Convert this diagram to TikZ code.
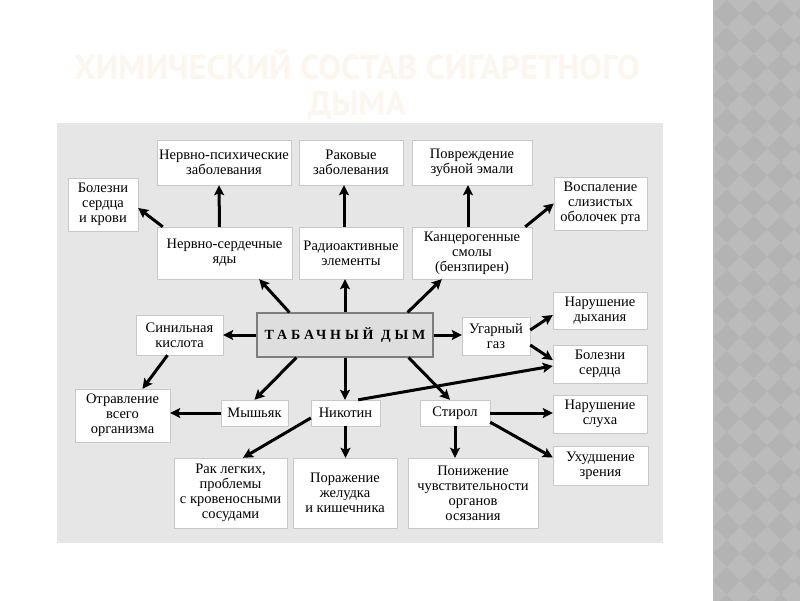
\documentclass[tikz,border=0pt]{standalone}
\usepackage{fontspec}
\setmainfont{Liberation Serif}
\newfontfamily\titlefont{PT Sans}
\usetikzlibrary{arrows.meta}

\definecolor{panel}{RGB}{230,230,230}
\definecolor{boxline}{RGB}{200,200,200}
\definecolor{smokefill}{RGB}{222,222,222}
\definecolor{smokeline}{RGB}{125,125,125}
\definecolor{titlecol}{RGB}{253,246,238}
\definecolor{stripdark}{RGB}{179,179,179}
\definecolor{striplight}{RGB}{187,187,187}

\begin{document}
\begin{tikzpicture}[x=1pt, y=-1pt,
  box/.style={draw=boxline, fill=white, inner sep=0pt, align=center, font=\fontsize{14.5}{15}\selectfont},
  arr/.style={-{Stealth[length=10pt, width=10pt, inset=2pt]}, line width=3pt}]
\useasboundingbox (0,0) rectangle (800,600);
\fill[white] (0,0) rectangle (800,600);
% grey strip on the right
\begin{scope}
\clip (713,0) rectangle (800,600);
\fill[stripdark] (700,-20) rectangle (820,620);
\foreach \i in {0,...,4} \foreach \j in {0,...,23}
  \fill[striplight] (713+27*\i-13.5, 27*\j) -- ++(13.5,-13.5) -- ++(13.5,13.5) -- ++(-13.5,13.5) -- cycle;
\end{scope}
% title
\node[text=titlecol, font=\titlefont\bfseries\fontsize{34}{36}\selectfont, align=center] (title) at (357,85) {ХИМИЧЕСКИЙ СОСТАВ СИГАРЕТНОГО\\ДЫМА};
\fill[panel] (57,123) rectangle (663,543);
% boxes
\node[box, minimum width=134, minimum height=45] (x1) at (224,162.5) {Нервно-психические\\заболевания};
\node[box, minimum width=104, minimum height=45] (x2) at (351,162.5) {Раковые\\заболевания};
\node[box, minimum width=120, minimum height=45] (x3) at (472,162.5) {Повреждение\\зубной эмали};
\node[box, minimum width=70, minimum height=53] (b1) at (103,204.5) {Болезни\\сердца\\и крови};
\node[box, minimum width=93, minimum height=53] (b2) at (600.5,203.5) {Воспаление\\слизистых\\оболочек рта};
\node[box, minimum width=135, minimum height=52] (y1) at (224.5,253) {Нервно-сердечные\\яды};
\node[box, minimum width=104, minimum height=52] (y2) at (351,253) {Радиоактивные\\элементы};
\node[box, minimum width=120, minimum height=52] (y3) at (472,253) {Канцерогенные\\смолы\\(бензпирен)};
\node[box, minimum width=87, minimum height=40] (z1) at (179.5,335) {Синильная\\кислота};
\node[draw=smokeline, fill=smokefill, line width=1.2pt, inner sep=0pt, minimum width=176, minimum height=44,
  font=\bfseries\fontsize{14}{15}\selectfont\addfontfeature{LetterSpace=28}] (s) at (345,335) {ТАБАЧНЫЙ ДЫМ};
\node[box, minimum width=68, minimum height=38] (z2) at (496,336) {Угарный\\газ};
\node[box, minimum width=94, minimum height=37] (c1) at (600,310.5) {Нарушение\\дыхания};
\node[box, minimum width=94, minimum height=38] (c2) at (600,364) {Болезни\\сердца};
\node[box, minimum width=95, minimum height=53] (t0) at (122.5,415.5) {Отравление\\всего\\организма};
\node[box, minimum width=67, minimum height=26] (t1) at (254.5,413) {Мышьяк};
\node[box, minimum width=69, minimum height=26] (t2) at (345.5,413) {Никотин};
\node[box, minimum width=70, minimum height=26] (t3) at (455,413) {Стирол};
\node[box, minimum width=94, minimum height=38] (c3) at (600,414) {Нарушение\\слуха};
\node[box, minimum width=95, minimum height=39] (c4) at (600.5,465.5) {Ухудшение\\зрения};
\node[box, minimum width=113, minimum height=70] (u1) at (230.5,493) {Рак легких,\\проблемы\\с кровеносными\\сосудами};
\node[box, minimum width=104, minimum height=70] (u2) at (345,493) {Поражение\\желудка\\и кишечника};
\node[box, minimum width=130, minimum height=70] (u3) at (473,493) {Понижение\\чувствительности\\органов\\осязания};
% arrows
\draw[arr] ([xshift=-5]y1.north) -- ([xshift=-5]x1.south);
\draw[arr] ([xshift=-7]y2.north) -- ([xshift=-7]x2.south);
\draw[arr] ([xshift=-4]y3.north) -- ([xshift=-4]x3.south);
\draw[arr] ([xshift=6]y1.north west) -- ([yshift=-3.5]b1.east);
\draw[arr] ([xshift=-7]y3.north east) -- (b2.west);
\draw[arr] ([xshift=33]s.north west) -- ([xshift=-33]y1.south east);
\draw[arr] (s.north) -- (s.north |- y2.south);
\draw[arr] ([xshift=-26]s.north east) -- ([xshift=30]y3.south west);
\draw[arr] (s.west) -- (z1.east);
\draw[arr] (s.east) -- (s.east -| z2.west);
\draw[arr] ([yshift=6]z2.east) -- ([yshift=-4.5]c1.west);
\draw[arr] ([yshift=-9]z2.east) -- ([yshift=4]c2.west);
\draw[arr] ([xshift=-12]z1.south) -- ([xshift=20]t0.north);
\draw[arr] ([xshift=40]s.south west) -- (t1.north);
\draw[arr] (s.south) -- (s.south |- t2.north);
\draw[arr] ([xshift=-22]t2.north east) -- ([yshift=-2]c2.west);
\draw[arr] ([xshift=-25]s.south east) -- ([xshift=-5]t3.north);
\draw[arr] (t1.west) -- (t1.west -| t0.east);
\draw[arr] ([yshift=-5]t2.west) -- ([xshift=12.5]u1.north);
\draw[arr] (t2.south) -- (t2.south |- u2.north);
\draw[arr] (t3.south) -- (t3.south |- u3.north);
\draw[arr] (t3.east) -- (t3.east -| c3.west);
\draw[arr] ([yshift=4]t3.south east) -- ([yshift=8]c4.west);
\end{tikzpicture}
\end{document}
